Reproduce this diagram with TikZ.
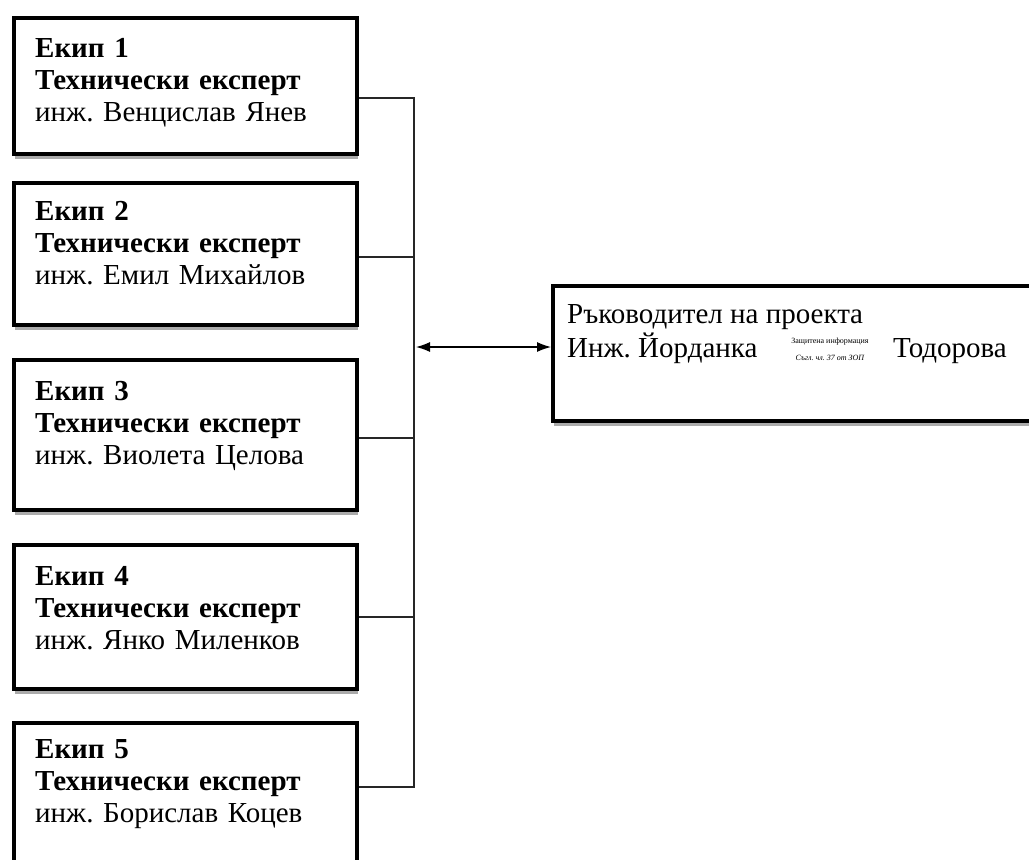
\documentclass[tikz,border=0pt]{standalone}
\usepackage{fontspec}
\setmainfont{Liberation Serif}
\usetikzlibrary{arrows.meta,shadows}
\frenchspacing
\begin{document}
\begin{tikzpicture}[x=1pt,y=-1pt,
  boxshadow/.style={drop shadow={shadow xshift=1pt,shadow yshift=-5pt,opacity=0.6,fill=black!55}},
  teambox/.style={draw, line width=3.5pt, fill=white, boxshadow, anchor=north west,
    minimum width=343pt, inner sep=0pt},
  teamtext/.style={anchor=base west, text width=320pt, inner sep=0pt, align=left,
    font=\fontsize{29}{32}\selectfont},
  leadbox/.style={draw, line width=3.5pt, fill=white, boxshadow, anchor=north west,
    minimum width=490pt, minimum height=135pt, inner sep=0pt},
  conn/.style={line width=1.2pt, black!85},
  arr/.style={line width=1.2pt, {Latex[length=14pt,width=10pt]}-{Latex[length=14pt,width=10pt]}},
  txt/.style={inner sep=0pt, font=\fontsize{29}{34}\selectfont, align=left},
  tiny/.style={inner sep=0pt, font=\fontsize{8}{17}\selectfont, align=center}
]
\useasboundingbox (0,0) rectangle (1029,860);
\clip (0,0) rectangle (1029,860);

\node[teambox, minimum height=136pt] (b1) at (12,16) {};
\node[teambox, minimum height=142pt] (b2) at (12,181) {};
\node[teambox, minimum height=150pt] (b3) at (12,358) {};
\node[teambox, minimum height=144pt] (b4) at (12,543) {};
\node[teambox, minimum height=142pt] (b5) at (12,721) {};

\node[teamtext] (t1) at (35,57)
  {\textbf{Екип 1}\\\textbf{Технически експерт}\\инж. Венцислав Янев};
\node[teamtext] (t2) at (35,220)
  {\textbf{Екип 2}\\\textbf{Технически експерт}\\инж. Емил Михайлов};
\node[teamtext] (t3) at (35,400)
  {\textbf{Екип 3}\\\textbf{Технически експерт}\\инж. Виолета Целова};
\node[teamtext] (t4) at (35,585)
  {\textbf{Екип 4}\\\textbf{Технически експерт}\\инж. Янко Миленков};
\node[teamtext] (t5) at (35,758)
  {\textbf{Екип 5}\\\textbf{Технически експерт}\\инж. Борислав Коцев};

\node[leadbox] (lead) at (551,284) {};
\node[txt, anchor=base west] (l1) at (567,323) {Ръководител на проекта};
\node[txt, anchor=base west] (l2) at (567,357) {Инж. Йорданка};
\node[tiny] (l3) at (830,349) {Защитена информация\\\textit{Съгл. чл. 37 от ЗОП}};
\node[txt, anchor=base west] (l4) at (893,357) {Тодорова};

\coordinate (j1) at (414,98);
\coordinate (j2) at (414,257);
\coordinate (j3) at (414,438);
\coordinate (j4) at (414,617);
\coordinate (j5) at (414,787);
\coordinate (ja) at (416,347);

\draw[conn] (b1.east |- j1) -- (j1) -- (j5) -- (b5.east |- j5);
\draw[conn] (b2.east |- j2) -- (j2);
\draw[conn] (b3.east |- j3) -- (j3);
\draw[conn] (b4.east |- j4) -- (j4);
\draw[arr] (ja) -- (lead.west |- ja);
\end{tikzpicture}
\end{document}
